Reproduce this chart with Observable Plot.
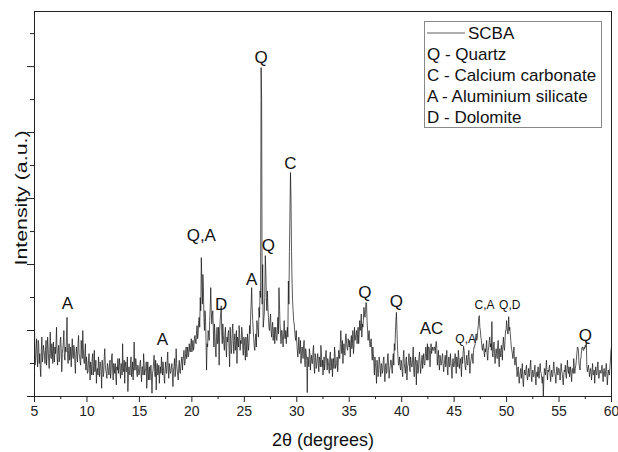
<!DOCTYPE html>
<html>
<head>
<meta charset="utf-8">
<script src="https://cdn.jsdelivr.net/npm/d3@7"></script>
<script src="https://cdn.jsdelivr.net/npm/@observablehq/plot@0.6"></script>
<style>
  html, body { margin: 0; padding: 0; background: #fff; }
  #chart { width: 618px; height: 452px; }
</style>
</head>
<body>
<div id="chart"></div>
<script>
// 2θ grid: 5.0° to 60.0° at 0.1° steps, plus readings half-way between (x.x5°)
const startAngle = 5.0;
const angleStep = 0.1;

// Intensity (counts, a.u.) at 5.0, 5.1, ... 60.0 — one row per degree
const intensity = [
  215,110,175,90,160,130,60,180,120,140,      // 5
  100,170,125,150,85,195,115,140,165,105,     // 6
  130,210,95,155,120,180,75,145,200,110,      // 7
  135,240,100,160,125,90,175,115,145,70,      // 8
  150,105,185,120,95,140,200,110,130,80,      // 9
  100,75,130,50,90,115,65,140,80,40,          // 10
  85,120,60,100,25,95,70,145,80,55,           // 11
  90,65,110,75,130,50,85,100,35,80,           // 12
  70,115,55,95,160,75,40,105,80,15,           // 13
  90,65,120,75,50,165,80,100,60,85,           // 14
  70,110,45,90,130,65,80,25,105,75,           // 15
  50,95,10,80,125,60,20,100,70,40,            // 16
  90,120,65,80,40,105,70,135,55,85,           // 17
  75,100,30,90,60,145,80,50,110,70,           // 18
  105,80,120,95,130,115,150,125,140,160,      // 19
  135,170,150,185,160,215,190,240,300,421,    // 20
  280,330,200,240,80,150,190,230,330,220,     // 21
  260,150,190,120,210,170,95,230,275,160,     // 22
  185,140,210,120,165,200,90,175,145,220,     // 23
  130,190,155,100,170,215,140,160,195,125,    // 24
  175,110,150,190,140,215,240,330,230,175,    // 25
  140,190,230,200,270,320,997,280,210,250,    // 26
  427,300,320,240,200,250,180,225,190,160,    // 27
  210,170,240,330,220,160,200,150,230,175,    // 28
  160,210,350,440,679,440,290,230,200,170,    // 29
  165,120,180,140,100,150,115,170,90,130,     // 30
  12,110,145,80,125,100,155,70,120,95,        // 31
  130,75,110,155,90,65,120,100,140,80,        // 32
  105,70,135,90,60,115,150,85,100,75,         // 33
  140,115,200,130,100,160,125,190,145,175,    // 34
  150,120,185,160,130,210,175,200,190,160,    // 35
  230,220,180,210,270,240,285,230,170,200,    // 36
  150,175,110,130,65,100,40,90,70,105,        // 37
  60,95,80,120,45,100,75,130,55,90,           // 38
  110,70,130,160,190,255,150,95,120,80,       // 39
  100,60,140,85,110,50,95,130,75,105,         // 40
  90,150,60,120,35,100,80,135,70,110,         // 41
  85,130,95,150,110,110,150,90,160,140,       // 42
  140,150,130,167,95,140,80,115,100,130,      // 43
  75,110,90,140,65,120,95,100,55,115,         // 44
  90,130,70,105,140,85,115,60,100,152,        // 45
  110,80,125,95,140,70,110,130,100,150,       // 46
  160,190,175,215,245,200,170,140,160,120,    // 47
  135,170,110,150,180,160,227,120,165,100,    // 48
  145,115,170,90,130,155,110,180,140,200,     // 49
  230,190,242,210,170,140,115,150,95,120,     // 50
  60,90,40,75,55,100,30,80,65,95,             // 51
  50,85,70,110,45,80,60,95,35,75,             // 52
  90,55,100,70,40,0,85,65,110,50,             // 53
  75,95,45,80,60,105,70,40,90,65,             // 54
  85,50,100,70,35,80,95,55,110,70,            // 55
  60,90,45,85,115,70,95,130,148,100,          // 56
  80,120,150,140,150,155,164,75,95,60,        // 57
  85,50,100,70,40,90,65,105,55,80,            // 58
  70,95,45,85,60,100,35,80,65,110,            // 59
  150                                         // 60
];

// Intensity at 5.05, 5.15, ... 59.95 — one row per degree
const intensityHalf = [
  95,145,120,170,100,85,140,105,155,125,      // 5
  140,95,180,110,130,120,160,100,125,150,     // 6
  160,120,140,105,170,135,130,165,120,150,    // 7
  180,130,140,110,150,135,120,155,100,130,    // 8
  120,160,130,105,170,115,150,100,160,120,    // 9
  70,110,85,105,65,130,90,75,110,80,          // 10
  65,90,105,75,110,60,120,95,70,100,          // 11
  75,100,55,120,80,100,70,60,90,115,          // 12
  95,75,100,65,85,110,90,75,120,65,           // 13
  75,100,60,105,90,80,115,70,95,65,           // 14
  100,75,90,65,100,80,105,70,50,90,           // 15
  80,60,70,105,85,110,80,65,95,75,            // 16
  70,90,105,60,85,75,110,80,100,70,           // 17
  90,60,80,115,75,100,65,90,75,95,            // 18
  120,110,140,100,150,130,120,160,135,175,    // 19
  150,140,180,165,200,175,230,210,260,350,    // 20
  370,240,260,170,160,200,170,270,260,250,    // 21
  200,220,140,180,160,210,200,250,190,220,    // 22
  160,190,150,180,190,140,210,130,200,170,    // 23
  170,140,200,180,150,190,170,210,150,180,    // 24
  140,180,120,170,160,190,280,270,200,150,    // 25
  170,150,210,180,240,300,900,400,230,300,    // 26
  380,260,270,210,230,200,210,170,210,190,    // 27
  180,200,190,280,190,200,170,190,180,200,    // 28
  190,180,280,560,600,350,260,220,180,200,    // 29
  140,150,130,170,125,140,155,110,145,110,    // 30
  120,90,130,110,100,140,90,130,85,115,       // 31
  100,120,90,130,110,100,80,130,105,115,      // 32
  90,120,80,115,100,85,130,95,120,100,        // 33
  125,160,150,170,140,130,185,160,140,160,    // 34
  170,160,145,200,150,170,190,160,210,190,    // 35
  200,250,220,230,250,260,280,200,190,160,    // 36
  170,130,150,100,120,80,110,60,120,85,       // 37
  100,70,110,80,90,70,120,95,80,110,          // 38
  85,110,95,140,230,200,120,100,90,110,       // 39
  75,120,100,70,120,90,110,85,120,90,         // 40
  120,80,105,90,110,70,120,100,90,125,        // 41
  110,100,120,130,160,150,140,130,130,150,    // 42
  140,150,160,145,120,100,125,95,120,100,     // 43
  95,125,110,85,105,90,130,80,105,90,         // 44
  110,95,120,90,120,100,90,120,130,140,       // 45
  90,110,100,120,105,95,120,115,140,150,      // 46
  180,170,200,240,210,180,150,155,135,145,    // 47
  150,125,140,170,150,140,130,150,130,125,    // 48
  130,150,110,145,120,140,160,150,170,200,    // 49
  210,190,200,190,150,130,130,110,110,90,     // 50
  75,65,60,85,70,50,60,70,85,60,              // 51
  70,60,95,65,70,60,80,55,70,60,              // 52
  65,80,75,55,60,50,75,90,70,80,              // 53
  85,65,70,60,85,80,60,75,70,85,              // 54
  70,75,80,55,65,75,65,85,80,90,              // 55
  75,65,80,70,90,85,110,150,140,90,           // 56
  110,140,150,140,145,150,90,85,80,75,        // 57
  70,80,65,80,75,70,85,75,70,75,              // 58
  85,70,75,65,80,75,60,70,90,140              // 59
];

// Peak annotations
const peakLabels = ["A","A","Q,A","D","A","Q","Q","C","Q","Q","AC","Q,A","C,A","Q,D","Q"];
const peakX      = [8.15,17.2,20.9,22.8,25.7,26.6,27.3,29.4,36.5,39.5,42.85,46.1,47.9,50.3,57.5];
const peakY      = [282,173,488,279,355,1027,458,706,315,288,206,173,276,276,185];
const peakSmall  = [false,false,false,false,false,false,false,false,false,false,false,true,true,true,false];

// Axis ticks
const xMajorTicks = [5,10,15,20,25,30,35,40,45,50,55,60];
const xMinorTicks = [7.5,12.5,17.5,22.5,27.5,32.5,37.5,42.5,47.5,52.5,57.5];
const yMajorTicks = [0,200,400,600,800,1000];
const yMinorTicks = [100,300,500,700,900,1100];

// Titles and legend
const xTitle = "2θ (degrees)";
const yTitle = "Intensity (a.u.)";
const seriesName = "SCBA";
const legendLines = ["Q - Quartz","C - Calcium carbonate","A - Aluminium silicate","D - Dolomite"];

const data = [];
intensity.forEach((v, i) => {
  data.push({t: +(startAngle + i * angleStep).toFixed(2), v});
  if (i < intensityHalf.length) data.push({t: +(startAngle + (i + 0.5) * angleStep).toFixed(2), v: intensityHalf[i]});
});
const labels = peakLabels.map((s, i) => ({s, x: peakX[i], y: peakY[i], small: peakSmall[i]}));

const font = "'Liberation Sans', Arial, Helvetica, sans-serif";

const chart = Plot.plot({
  width: 618,
  height: 452,
  marginLeft: 34,
  marginRight: 7,
  marginTop: 11,
  marginBottom: 56,
  style: {fontFamily: font, background: "#fff", color: "#222"},
  x: {domain: [5, 60]},
  y: {domain: [0, 1167]},
  marks: [
    Plot.line(data, {x: "t", y: "v", stroke: "#111", strokeWidth: 0.7}),
    Plot.frame({stroke: "#222", strokeWidth: 1}),
    Plot.axisX({ticks: xMajorTicks, tickSize: 6, tickPadding: 4, fontSize: 14, label: null, tickFormat: d => String(d), stroke: "#222"}),
    Plot.axisX({ticks: xMinorTicks, tickSize: 3, label: null, tickFormat: () => "", stroke: "#222"}),
    Plot.axisY({ticks: yMajorTicks, tickSize: 7, label: null, tickFormat: () => "", stroke: "#222"}),
    Plot.axisY({ticks: yMinorTicks, tickSize: 4, label: null, tickFormat: () => "", stroke: "#222"}),
    Plot.text(labels.filter(d => !d.small), {x: "x", y: "y", text: "s", fontSize: 17, fill: "#111"}),
    Plot.text(labels.filter(d => d.small), {x: "x", y: "y", text: "s", fontSize: 12, fill: "#111"}),
    Plot.text([xTitle], {frameAnchor: "bottom", dy: 44, lineAnchor: "middle", textAnchor: "middle", fontSize: 18, fill: "#111"})
  ]
});

const svg = d3.select(chart);

// Y title (slightly stretched like the original)
svg.append("text")
  .attr("transform", "translate(21,198) rotate(-90)")
  .attr("text-anchor", "middle").attr("dy", "0.35em")
  .attr("font-family", font).attr("font-size", 17).attr("fill", "#111")
  .attr("textLength", 135).attr("lengthAdjust", "spacingAndGlyphs")
  .text(yTitle);

// Legend box (top-right inside the frame)
const lg = svg.append("g").attr("font-family", font).attr("fill", "#111").attr("text-anchor", "start");
lg.append("rect").attr("x", 424.5).attr("y", 21.5).attr("width", 177).attr("height", 106)
  .attr("fill", "#fff").attr("stroke", "#888").attr("stroke-width", 1);
lg.append("line").attr("x1", 427).attr("x2", 465).attr("y1", 33).attr("y2", 33)
  .attr("stroke", "#333").attr("stroke-width", 0.8);
lg.append("text").attr("x", 468).attr("y", 33).attr("dy", "0.35em").attr("font-size", 17).text(seriesName);
legendLines.forEach((s, i) => {
  lg.append("text").attr("x", 427).attr("y", 54.5 + i * 21).attr("dy", "0.35em").attr("font-size", 17).text(s);
});

document.getElementById("chart").appendChild(chart);
</script>
</body>
</html>
